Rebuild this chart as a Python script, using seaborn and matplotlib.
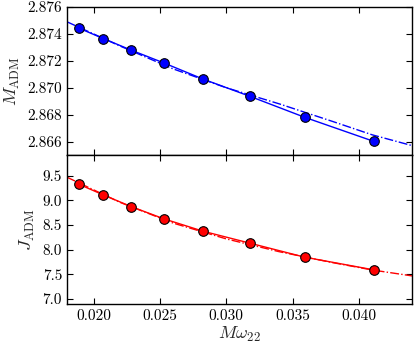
import matplotlib
matplotlib.use("Agg")
import matplotlib.pyplot as plt
import numpy as np
import pandas as pd
import seaborn as sns

# measured points
m_omega = [0.01887, 0.02075, 0.02285, 0.02533, 0.02826, 0.03179, 0.03592, 0.0411]
m_adm = [2.87444, 2.87365, 2.87279, 2.87183, 2.87064, 2.86936, 2.86780, 2.86602]
j_adm = [9.33, 9.11, 8.873, 8.624, 8.375, 8.133, 7.849, 7.593]

# dash-dot model curve
model_x = [0.018, 0.022, 0.026, 0.030, 0.034, 0.038, 0.041, 0.044]
model_m = [2.8749, 2.8731, 2.8714, 2.8700, 2.8688, 2.8675, 2.8665, 2.8657]
model_j = [9.47, 8.96, 8.54, 8.22, 7.96, 7.74, 7.59, 7.47]

xticks = [0.020, 0.025, 0.030, 0.035, 0.040]
m_ticks = [2.866, 2.868, 2.870, 2.872, 2.874, 2.876]
j_ticks = [7.0, 7.5, 8.0, 8.5, 9.0, 9.5]

sns.set_style("ticks")
plt.rcParams['font.family'] = ['cmr10', 'DejaVu Serif']
plt.rcParams['mathtext.fontset'] = 'cm'
plt.rcParams['axes.formatter.use_mathtext'] = True
plt.rcParams['axes.unicode_minus'] = False

pts = pd.DataFrame({'x': m_omega, 'M': m_adm, 'J': j_adm})
model = pd.DataFrame({'x': model_x, 'M': model_m, 'J': model_j})

fig = plt.figure(figsize=(4.15, 3.45), dpi=100)
ax1 = fig.add_axes([0.1614, 0.5507, 0.8314, 0.4290])
ax2 = fig.add_axes([0.1614, 0.1188, 0.8314, 0.4319])

for ax, col, c, ticks, lim, fmt in [
        (ax1, 'M', 'blue', m_ticks, (2.865, 2.876), '%.3f'),
        (ax2, 'J', 'red', j_ticks, (6.9, 9.92), '%.1f')]:
    sns.lineplot(data=model, x='x', y=col, ax=ax, color=c, linestyle='-.', lw=1.0)
    sns.lineplot(data=pts, x='x', y=col, ax=ax, color=c, lw=1.0)
    sns.scatterplot(data=pts, x='x', y=col, ax=ax, color=c, s=48,
                    edgecolor='black', linewidth=0.8, zorder=5)
    ax.set_xlim(0.018, 0.044)
    ax.set_ylim(*lim)
    ax.set_xticks(xticks)
    ax.set_yticks(ticks)
    ax.set_yticklabels([fmt % t for t in ticks])
    ax.tick_params(direction='in', top=True, right=True, length=4, width=0.8,
                   labelsize=11, colors='black')
    for s in ax.spines.values():
        s.set_linewidth(1.0)
        s.set_color('black')
    ax.set_xlabel('')

ax1.set_xticklabels([])
ax2.set_xticklabels(['%.3f' % t for t in xticks])
ax1.set_ylabel(r'$M_{\rm ADM}$', fontsize=13)
ax2.set_ylabel(r'$J_{\rm ADM}$', fontsize=13)
ax2.set_xlabel(r'$M\omega_{22}$', fontsize=13, labelpad=2)

fig.savefig('out.png', dpi=100)
